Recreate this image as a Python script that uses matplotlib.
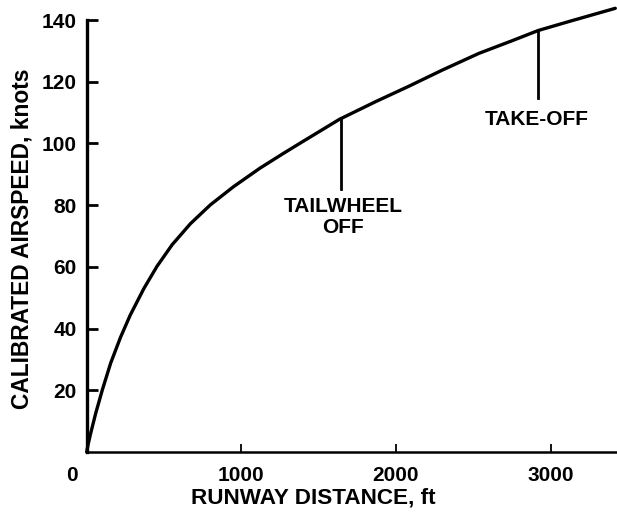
import matplotlib.pyplot as plt
from matplotlib.transforms import ScaledTranslation

distance_ft = [0, 8, 26, 58, 101, 155, 219, 282, 370, 455, 553, 671, 800, 950,
               1121, 1273, 1397, 1634, 1871, 2086, 2301, 2537, 2752, 2920, 3118, 3419]
airspeed_kt = [0, 2.2, 6.1, 12.5, 20.1, 28.8, 37.2, 44.4, 53.0, 60.2, 67.2, 74.0, 80.1, 86.0,
               92.0, 96.8, 100.6, 107.8, 113.6, 118.6, 123.8, 129.2, 133.3, 136.6, 139.5, 143.8]

x_ticks = [0, 1000, 2000, 3000]
y_ticks = [20, 40, 60, 80, 100, 120, 140]

# event markers: (distance, speed on curve, bottom of line, label, label x, label top)
tailwheel = (1643, 108.2, 85.2, 'TAILWHEEL\nOFF', 1659, 82.5)
takeoff = (2920, 136.6, 114.7, 'TAKE-OFF', 2910, 111.0)

plt.rcParams['font.family'] = ['Liberation Sans', 'DejaVu Sans']
plt.rcParams['font.weight'] = 'bold'

fig = plt.figure(figsize=(6.17, 5.15), dpi=100)
ax = fig.add_axes([0.1405, 0.1223, 0.8595, 0.8388])

ax.plot(distance_ft, airspeed_kt, color='black', linewidth=2.4, clip_on=False,
        solid_capstyle='round', solid_joinstyle='round')

for x, y_top, y_bot, txt, tx, ty in (tailwheel, takeoff):
    ax.plot([x, x], [y_bot, y_top], color='black', linewidth=2)
    ax.text(tx, ty, txt, ha='center', va='top', fontsize=15, fontweight='bold',
            linespacing=1.1)

ax.set_xlim(0, 3430)
ax.set_ylim(0, 140)
ax.set_xticks(x_ticks)
ax.set_yticks(y_ticks)
ax.tick_params(axis='y', direction='in', length=8, width=2, labelsize=15, pad=7)
ax.tick_params(axis='x', direction='in', length=6, width=1.3, labelsize=15, pad=10)
for lab in ax.get_xticklabels() + ax.get_yticklabels():
    lab.set_fontweight('bold')
# the "0" sits a little left of the axis in the original
ax.get_xticklabels()[0].set_transform(
    ax.get_xticklabels()[0].get_transform() + ScaledTranslation(-0.15, 0, fig.dpi_scale_trans))

ax.spines['top'].set_visible(False)
ax.spines['right'].set_visible(False)
ax.spines['left'].set_linewidth(2.4)
ax.spines['bottom'].set_linewidth(1.8)

ax.set_xlabel('RUNWAY DISTANCE, ft', fontsize=16.2, fontweight='bold')
ax.set_ylabel('CALIBRATED AIRSPEED, knots', fontsize=16.4, fontweight='bold')
ax.xaxis.set_label_coords(0.427, -0.106)
ax.yaxis.set_label_coords(-0.122, 0.493)
ax.xaxis.label.set_va('center')
ax.yaxis.label.set_va('center')

plt.savefig('out.png', dpi=100)
